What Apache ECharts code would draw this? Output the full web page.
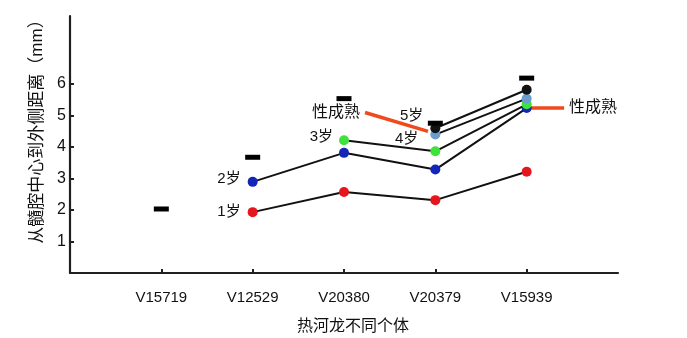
<!DOCTYPE html>
<html><head><meta charset="utf-8">
<script src="https://cdn.jsdelivr.net/npm/echarts@6/dist/echarts.min.js"></script>
<style>html,body{margin:0;padding:0;background:#fff}#c{width:687px;height:338px}</style>
</head><body><div id="c"></div>
<script>
const categories = ['V15719', 'V12529', 'V20380', 'V20379', 'V15939'];
const yTickValues = [1, 2, 3, 4, 5, 6];
const dashValues = [2.03, 3.67, 5.53, 4.75, 6.18];
const age1 = [null, 1.93, 2.57, 2.31, 3.21];
const age2 = [null, 2.89, 3.81, 3.28, 5.23];
const age3 = [null, null, 4.21, 3.86, 5.35];
const age4 = [null, null, null, 4.39, 5.53];
const age5 = [null, null, null, 4.59, 5.81];
const ageLabels = ['1岁', '2岁', '3岁', '4岁', '5岁'];
const maturityLeft = [[3.23, 5.09], [3.92, 4.49]];
const maturityRight = [[5.0, 5.23], [5.41, 5.23]];
const maturityText = '性成熟';
const xAxisTitle = '热河龙不同个体';
const yAxisTitle = '从髓腔中心到外侧距离（mm）';

const FONT = '"Liberation Sans", Arial, "Noto Sans CJK SC", sans-serif';
const ages = [age1, age2, age3, age4, age5];
const ageColors = ['#e5161d', '#1326b8', '#3fe23a', '#6b9ccf', '#111111'];
const ageLabelStyle = [
  {distance: 7, offset: [0, 0]},
  {distance: 7, offset: [0, -3]},
  {distance: 6, offset: [0, -3]},
  {distance: 12, offset: [0, 4]},
  {distance: 7, offset: [0, -12]}
];

const ageSeries = ages.map((arr, k) => {
  const data = [];
  let first = true;
  arr.forEach((v, i) => {
    if (v === null) return;
    const item = {value: [i + 1, v]};
    if (first) {
      item.label = {
        show: true, position: 'left', formatter: ageLabels[k],
        distance: ageLabelStyle[k].distance, offset: ageLabelStyle[k].offset,
        color: '#111', fontSize: 15, fontFamily: FONT
      };
      first = false;
    }
    data.push(item);
  });
  return {
    type: 'line', data, symbol: 'circle', symbolSize: 10, z: 5 + k,
    lineStyle: {color: '#111', width: 2},
    itemStyle: {color: ageColors[k]},
    label: {show: false},
    emphasis: {disabled: true}, animation: false
  };
});

const maturityStyle = {color: '#f04a1c', width: 3.5};
const maturitySeries = [
  {type: 'line', z: 2, symbol: 'none', lineStyle: maturityStyle, animation: false, data: maturityLeft},
  {type: 'line', z: 2, symbol: 'none', lineStyle: maturityStyle, animation: false, data: maturityRight}
];
const maturityLabelSeries = {
  type: 'scatter', z: 3, symbolSize: 0, animation: false, silent: true,
  itemStyle: {color: '#fff', opacity: 1},
  label: {show: true, formatter: maturityText, color: '#111', opacity: 1, fontSize: 16, fontFamily: FONT},
  data: [
    {value: maturityLeft[0], label: {position: 'left', distance: 5}},
    {value: maturityRight[1], label: {position: 'right', distance: 5}}
  ]
};

const dashSeries = {
  type: 'scatter', z: 20, symbol: 'rect', symbolSize: [15, 5],
  itemStyle: {color: '#000', opacity: 1}, animation: false,
  data: dashValues.map((v, i) => [i + 1, v])
};

const chart = echarts.init(document.getElementById('c'), null, {renderer: 'canvas'});
chart.setOption({
  animation: false,
  grid: {left: 70, right: 69, top: 16, bottom: 65, containLabel: false, outerBoundsMode: 'none'},
  xAxis: {
    type: 'value', min: 0, max: categories.length + 1, interval: 1,
    splitLine: {show: false},
    axisLine: {lineStyle: {color: '#231f20', width: 2.2}},
    axisTick: {show: true, inside: true, length: 4, lineStyle: {color: '#231f20', width: 2},
      customValues: categories.map((c, i) => i + 1)},
    axisLabel: {color: '#111', fontSize: 15, fontFamily: FONT, margin: 17,
      customValues: categories.map((c, i) => i + 1),
      formatter: v => categories[v - 1] || ''},
    name: xAxisTitle, nameLocation: 'middle', nameGap: 46,
    nameTextStyle: {color: '#111', fontSize: 16, fontFamily: FONT, padding: [0, 0, 0, 18]}
  },
  yAxis: {
    type: 'value', min: 0, max: 8.15, interval: 1,
    splitLine: {show: false},
    axisLine: {show: true, lineStyle: {color: '#231f20', width: 2.2}},
    axisTick: {show: true, inside: true, length: 4, lineStyle: {color: '#231f20', width: 2},
      customValues: yTickValues},
    axisLabel: {color: '#111', fontSize: 16, fontFamily: FONT, margin: 4,
      customValues: yTickValues},
    name: yAxisTitle, nameLocation: 'middle', nameGap: 20,
    nameTextStyle: {color: '#111', fontSize: 17, fontFamily: FONT, padding: [0, 0, 0, 34]}
  },
  series: [...maturitySeries, maturityLabelSeries, ...ageSeries, dashSeries]
});
</script></body></html>
